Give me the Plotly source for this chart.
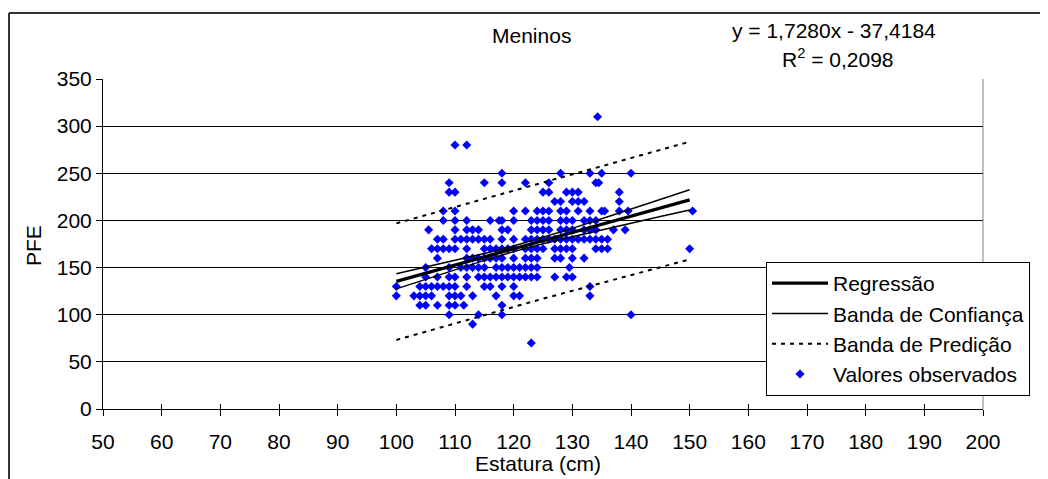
import plotly.graph_objects as go

# ---------------- data ----------------
pfe_levels = [310, 280, 250, 240, 230, 220, 210, 200, 190, 180, 170, 160, 150, 140, 130, 120, 110, 100, 90, 70]
estatura_by_level = [
    [134.3],
    [110, 112],
    [118, 128, 133, 135, 140],
    [109, 115, 118, 122, 126, 134, 134.5],
    [109, 110, 125, 126, 129, 130, 131, 138],
    [127, 128, 130, 131, 132, 138],
    [108, 110, 120, 122, 124, 125, 126, 128, 129, 131, 133, 135, 135.5, 138, 139.5, 150.5],
    [108, 110, 112, 116, 117.5, 118, 120, 123, 124, 125, 126, 128, 129, 130, 132, 133, 134],
    [105.5, 110, 112, 113, 114, 118, 119, 123, 124, 125, 126, 128, 129, 130, 132, 133, 134, 137, 139],
    [107, 108, 110, 111, 112, 113, 114, 115, 116, 118, 120, 122, 123, 124, 125, 126, 127, 128, 129, 130,
     131, 132, 133, 134, 135, 136],
    [106, 107, 108, 109, 110, 112, 115, 116, 117, 118, 119, 120, 122, 123, 124, 125, 127, 128, 129, 130,
     134, 135, 136, 150],
    [107, 112, 113, 114, 115, 116, 117, 118, 120, 122, 123, 124, 127, 128, 130, 132],
    [105, 109, 111, 112, 113, 114, 115, 117, 118, 119, 120, 121, 122, 123, 124, 129.5],
    [105, 107, 109, 110, 112, 114, 115, 116, 117, 118, 119, 120, 121, 122, 123, 124, 127, 129, 130],
    [100, 104, 105, 106, 107, 108, 109, 110, 112, 115, 116, 118, 120, 133],
    [100, 103, 104, 105, 106, 109, 110, 111, 113, 117, 120, 121, 133],
    [104, 105, 107, 109, 110, 111.5, 118],
    [109, 114, 118, 140],
    [113],
    [123],
]

band_x = [100, 105, 110, 115, 120, 125, 130, 135, 140, 145, 150]
regressao = [135.4, 144.0, 152.7, 161.3, 169.9, 178.6, 187.2, 195.9, 204.5, 213.1, 221.8]
conf_sup = [143.4, 150.4, 157.6, 165.0, 172.9, 181.9, 191.6, 201.7, 211.8, 222.1, 232.5]
conf_inf = [127.4, 137.6, 147.8, 157.6, 166.9, 175.3, 182.8, 190.1, 197.2, 204.1, 211.1]

pred_x = [100, 125, 150]
pred_sup = [196.9, 240.2, 283.5]
pred_inf = [73.2, 117.0, 158.7]

x_ticks = list(range(50, 201, 10))
y_ticks = list(range(0, 351, 50))

titulo = "Meninos"
equacao = "y = 1,7280x - 37,4184"
r2_texto = "R<sup>2</sup> = 0,2098"

# ---------------- build ----------------
est_pts, pfe_pts = [], []
for lvl, xs in zip(pfe_levels, estatura_by_level):
    for xv in xs:
        est_pts.append(xv)
        pfe_pts.append(lvl)

FONT = "Liberation Sans, Arial, sans-serif"
FS = 21
fig = go.Figure()

fig.add_trace(go.Scatter(
    x=est_pts, y=pfe_pts, mode="markers", name="Valores observados",
    marker=dict(symbol="diamond", size=7, color="#0000FF", line=dict(width=0)),
    legendrank=4,
))
fig.add_trace(go.Scatter(
    x=pred_x + [None] + pred_x, y=pred_sup + [None] + pred_inf, mode="lines",
    name="Banda de Predição", line=dict(color="black", width=2, dash="4px,5px"),
    legendrank=3, connectgaps=False,
))
fig.add_trace(go.Scatter(
    x=band_x + [None] + band_x, y=conf_sup + [None] + conf_inf, mode="lines",
    name="Banda de Confiança", line=dict(color="black", width=1.5),
    legendrank=2, connectgaps=False,
))
fig.add_trace(go.Scatter(
    x=band_x, y=regressao, mode="lines", name="Regressão",
    line=dict(color="black", width=3.2), legendrank=1,
))
# helper trace for inner half of crossing ticks
fig.add_trace(go.Scatter(x=[None], y=[None], xaxis="x2", showlegend=False, hoverinfo="skip"))

# page body adds an 8px offset; plot area in page pixels: x 103..983, y 79..409
fig.update_layout(
    width=1040, height=471,
    margin=dict(l=95, r=65, t=71, b=70),
    paper_bgcolor="white", plot_bgcolor="white",
    font=dict(family=FONT, size=FS, color="black"),
    showlegend=True,
    legend=dict(
        x=(766 - 103) / 880, y=(409 - 262) / 330, xanchor="left", yanchor="top",
        bgcolor="white", bordercolor="black", borderwidth=1,
        font=dict(family=FONT, size=FS, color="black"),
        itemsizing="trace", tracegroupgap=0, itemwidth=56,
    ),
    xaxis=dict(
        range=[50, 200], tickvals=x_ticks, ticktext=[str(v) for v in x_ticks],
        showgrid=False, zeroline=False, showline=True, linecolor="black", linewidth=1,
        ticks="outside", ticklen=6, tickcolor="black", tickwidth=1,
        ticklabelstandoff=8, tickfont=dict(family=FONT, size=FS),
    ),
    xaxis2=dict(
        range=[50, 200], overlaying="x", matches="x", anchor="y", side="bottom",
        tickvals=x_ticks, showticklabels=False, showgrid=False, zeroline=False,
        showline=False, ticks="inside", ticklen=5, tickcolor="black", tickwidth=1,
    ),
    yaxis=dict(
        range=[0, 350], tickvals=y_ticks, ticktext=[str(v) for v in y_ticks],
        showgrid=True, gridcolor="black", gridwidth=1, zeroline=False,
        showline=True, linecolor="black", linewidth=1,
        ticks="outside", ticklen=6, tickcolor="black", tickwidth=1,
        tickfont=dict(family=FONT, size=FS),
    ),
)

# plot area right border (grey) and chart frame
fig.add_shape(type="line", xref="paper", yref="paper", x0=1, x1=1, y0=0, y1=1,
              line=dict(color="#808080", width=1))
fig.add_shape(type="line", xref="paper", yref="paper", x0=-0.1068, x1=-0.1068, y0=-0.25, y1=1.2,
              line=dict(color="#303030", width=2))
fig.add_shape(type="line", xref="paper", yref="paper", x0=-0.1068, x1=1.08, y0=1.2, y1=1.2,
              line=dict(color="#303030", width=2))

# texts
fig.add_annotation(text=titulo, xref="paper", yref="paper", x=(531 - 103) / 880, y=(409 - 36) / 330,
                   showarrow=False, xanchor="center", yanchor="middle", font=dict(size=FS))
fig.add_annotation(text=equacao, xref="paper", yref="paper", x=(834 - 103) / 880, y=(409 - 31) / 330,
                   showarrow=False, xanchor="center", yanchor="middle", font=dict(size=FS))
fig.add_annotation(text=r2_texto, xref="paper", yref="paper", x=(838 - 103) / 880, y=(409 - 58) / 330,
                   showarrow=False, xanchor="center", yanchor="middle", font=dict(size=FS))
fig.add_annotation(text="Estatura (cm)", xref="paper", yref="paper", x=(538 - 103) / 880, y=(409 - 463) / 330,
                   showarrow=False, xanchor="center", yanchor="middle", font=dict(size=FS))
fig.add_annotation(text="PFE", xref="paper", yref="paper", x=(33 - 103) / 880, y=(409 - 246) / 330,
                   showarrow=False, xanchor="center", yanchor="middle", textangle=-90, font=dict(size=FS))

fig.write_html("out.html")
